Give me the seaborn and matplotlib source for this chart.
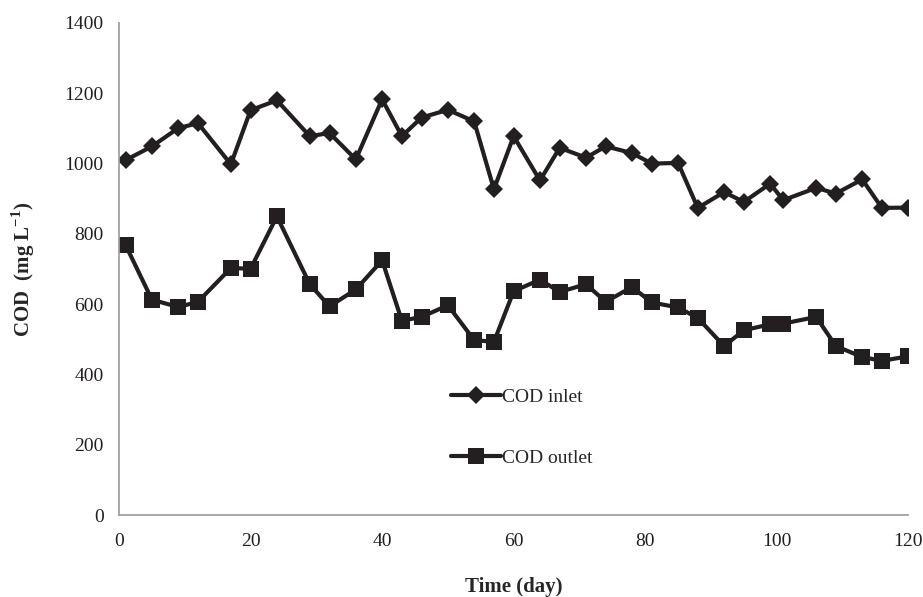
import pandas as pd
import matplotlib.pyplot as plt
import seaborn as sns

# Values
days = [1, 5, 9, 12, 17, 20, 24, 29, 32, 36, 40, 43, 46, 50, 54, 57, 60,
        64, 67, 71, 74, 78, 81, 85, 88, 92, 95, 99, 101, 106, 109, 113, 116, 120]
cod_inlet = [1010, 1049, 1101, 1115, 998, 1152, 1180, 1078, 1087, 1012, 1183, 1078,
             1131, 1153, 1120, 927, 1078, 952, 1045, 1017, 1049, 1030, 1000, 1002,
             874, 919, 891, 943, 896, 931, 915, 955, 874, 875]
cod_outlet = [768, 613, 592, 607, 703, 701, 850, 657, 594, 642, 725, 553,
              564, 597, 498, 493, 637, 670, 635, 657, 607, 649, 605, 591,
              561, 481, 526, 543, 545, 564, 481, 450, 439, 452]

df = pd.DataFrame({"day": days, "inlet": cod_inlet, "outlet": cod_outlet})

sns.set_style("white")
plt.rcParams['font.family'] = ['Liberation Serif', 'DejaVu Serif']
plt.rcParams['mathtext.fontset'] = 'custom'
plt.rcParams['mathtext.rm'] = 'Liberation Serif'
plt.rcParams['mathtext.bf'] = 'Liberation Serif:bold'

fig = plt.figure(figsize=(9.23, 5.97), dpi=100)
ax = fig.add_axes([0.129, 0.137, 0.855, 0.8245])

line_color = "#231f20"
sns.lineplot(data=df, x="day", y="inlet", ax=ax, color=line_color, lw=3,
             marker="D", markersize=9, markeredgewidth=0, label="COD inlet")
sns.lineplot(data=df, x="day", y="outlet", ax=ax, color=line_color, lw=3,
             marker="s", markersize=11, markeredgewidth=0, label="COD outlet")

ax.set_xlim(0, 120)
ax.set_ylim(0, 1400)
ax.set_xticks(range(0, 121, 20))
ax.set_yticks(range(0, 1401, 200))

for side in ["top", "right"]:
    ax.spines[side].set_visible(False)
for side in ["left", "bottom"]:
    ax.spines[side].set_color("#a0a0a0")
    ax.spines[side].set_linewidth(1.3)
ax.tick_params(axis="both", which="both", direction="out", length=5, width=1,
               color="#a0a0a0", labelsize=14, labelcolor="#231f20", pad=8)
ax.tick_params(axis="y", pad=6)

ax.set_xlabel("Time (day)", fontsize=15, fontweight="bold", labelpad=19)
ax.set_ylabel("COD  (mg L$^{\\mathbf{-1}}$)", fontsize=15, fontweight="bold", labelpad=20)

ax.legend(loc="center left", bbox_to_anchor=(0.42, 0.178), frameon=False,
          fontsize=14, handlelength=2.6, handletextpad=0.05, labelspacing=2.2,
          borderpad=0, borderaxespad=0)

plt.savefig("out.png", dpi=100)
